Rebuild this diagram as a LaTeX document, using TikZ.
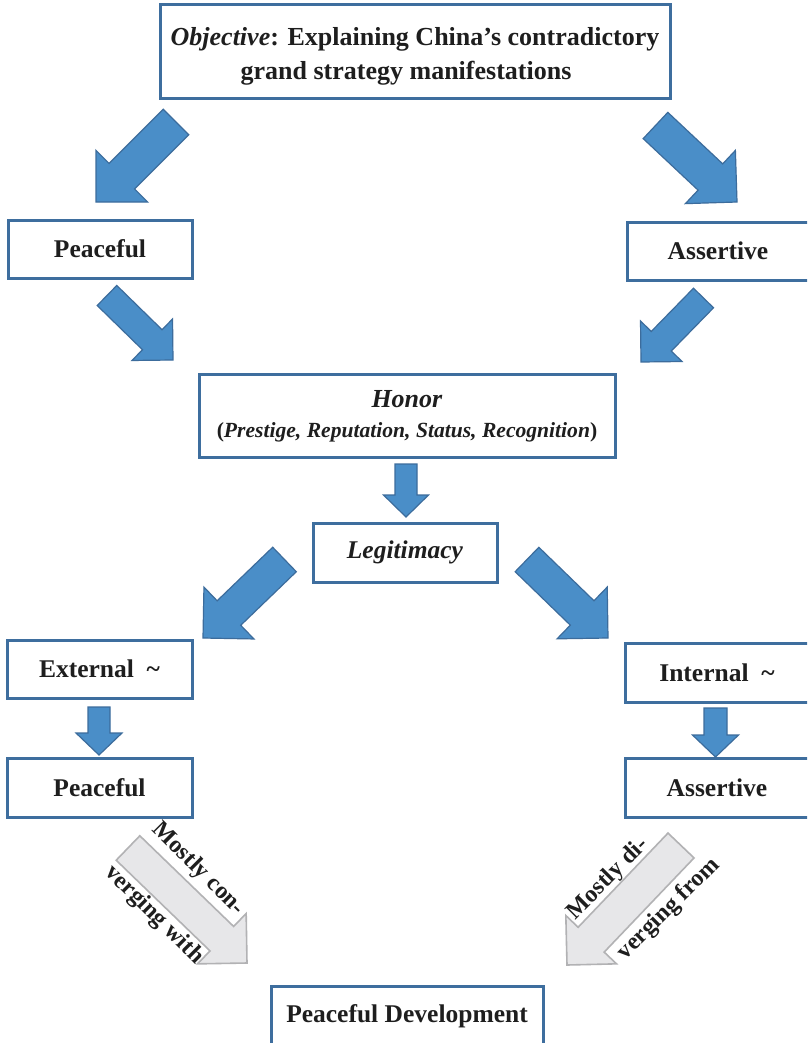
\documentclass[tikz,border=0pt]{standalone}
\usepackage{fontspec}
\setmainfont{Liberation Serif}
\usetikzlibrary{calc}
\definecolor{boxblue}{RGB}{62,110,158}
\definecolor{arrowblue}{RGB}{74,142,200}
\definecolor{arrowedge}{RGB}{60,108,156}
\definecolor{garrowfill}{RGB}{231,231,233}
\definecolor{garrowedge}{RGB}{178,178,180}
\definecolor{txt}{RGB}{30,30,30}
\newcommand\blockarrow[7]{%
  \coordinate (#2-n) at ($(#4)!#7!(#3)$);
  \draw[#1] ($(#3)!#5!90:(#4)$) -- ($(#2-n)!#5!90:(#4)$) -- ($(#2-n)!#6!90:(#4)$) -- (#4)
    -- ($(#2-n)!#6!-90:(#4)$) -- ($(#2-n)!#5!-90:(#4)$) -- ($(#3)!#5!-90:(#4)$) -- cycle;
}
\tikzset{
  box/.style={draw=boxblue, line width=3pt, fill=white, text=txt, align=center, inner sep=0pt,
    font=\bfseries\fontsize{25.5}{33}\selectfont},
  barrow/.style={fill=arrowblue, draw=arrowedge, line width=1.2pt, line join=miter},
  garrow/.style={fill=garrowfill, draw=garrowedge, line width=1.6pt, line join=miter},
  lab/.style={font=\bfseries\fontsize{24}{26}\selectfont, text=txt, inner sep=0pt},
}
\begin{document}
\begin{tikzpicture}[x=1pt,y=-1pt]
\clip (0,0) rectangle (807,1043);
\fill[white] (0,0) rectangle (807,1043);

% boxes
\node[box, minimum width=510pt, minimum height=94pt, font=\bfseries\fontsize{26}{34}\selectfont] (obj) at (415,52)
  {\rule{0pt}{26pt}\textit{Objective}: Explaining China's contradictory\\grand strategy manifestations\hspace*{18pt}};
\node[box, minimum width=184pt, minimum height=58pt] (p1) at (100,249) {Peaceful};
\node[box, minimum width=182pt, minimum height=58pt] (a1) at (718,251) {Assertive};
\node[box, minimum width=416pt, minimum height=83pt, font=\bfseries\fontsize{21.6}{30}\selectfont] (honor) at (407,416)
  {{\fontsize{26}{30}\selectfont\textit{Honor}}\\(\textit{Prestige, Reputation, Status, Recognition})};
\node[box, minimum width=184pt, minimum height=59pt] (legit) at (405,552.5) {\textit{Legitimacy}};
\node[box, minimum width=185pt, minimum height=58pt] (ext) at (99.5,669) {External\ \ \textasciitilde};
\node[box, minimum width=185pt, minimum height=59pt] (p2) at (99.5,787.5) {Peaceful};
\node[box, minimum width=184pt, minimum height=59pt] (int) at (717,672.5) {Internal\ \ \textasciitilde};
\node[box, minimum width=184pt, minimum height=59pt] (a2) at (717,787.5) {Assertive};
\node[box, minimum width=272pt, minimum height=60pt] (pd) at (407,1016) {\raisebox{4pt}{Peaceful Development}};

% blue block arrows
\coordinate (A1s) at (176,122);   \coordinate (A1e) at (96,202);
\coordinate (A2s) at (655.5,125.5); \coordinate (A2e) at (737,202);
\coordinate (A3s) at (107,295.5); \coordinate (A3e) at (173,360);
\coordinate (A4s) at (703.5,298); \coordinate (A4e) at (641,362);
\coordinate (A5s) at (406,464);   \coordinate (A5e) at (406,517);
\coordinate (A6s) at (284.5,559.5); \coordinate (A6e) at (203,638);
\coordinate (A7s) at (527,559.5); \coordinate (A7e) at (608,638);
\coordinate (A8s) at (99,707);    \coordinate (A8e) at (99,755);
\coordinate (A9s) at (715.5,708); \coordinate (A9e) at (715.5,757);

\blockarrow{barrow}{A1}{A1s}{A1e}{18pt}{36.5pt}{36.5pt}
\blockarrow{barrow}{A2}{A2s}{A2e}{18pt}{36.5pt}{36.5pt}
\blockarrow{barrow}{A3}{A3s}{A3e}{14pt}{29pt}{29pt}
\blockarrow{barrow}{A4}{A4s}{A4e}{14pt}{29pt}{29pt}
\blockarrow{barrow}{A5}{A5s}{A5e}{11pt}{22.5pt}{22pt}
\blockarrow{barrow}{A6}{A6s}{A6e}{17pt}{36pt}{36pt}
\blockarrow{barrow}{A7}{A7s}{A7e}{17pt}{36pt}{36pt}
\blockarrow{barrow}{A8}{A8s}{A8e}{11pt}{23pt}{22pt}
\blockarrow{barrow}{A9}{A9s}{A9e}{11.5pt}{23pt}{22pt}

% gray arrows
\coordinate (G1s) at (128,848); \coordinate (G1e) at (247,963);
\coordinate (G2s) at (681,845.5); \coordinate (G2e) at (567,965);
\blockarrow{garrow}{G1}{G1s}{G1e}{17pt}{35pt}{35pt}
\blockarrow{garrow}{G2}{G2s}{G2e}{18pt}{35pt}{35pt}

% labels on gray arrows
\node[lab, rotate=-45] (l1) at (198,869) {Mostly con-};
\node[lab, rotate=-45] (l2) at (154,915) {verging with};
\node[lab, rotate=45] (l3) at (608,879) {Mostly di-};
\node[lab, rotate=45] (l4) at (669,909) {verging from};
\end{tikzpicture}
\end{document}
